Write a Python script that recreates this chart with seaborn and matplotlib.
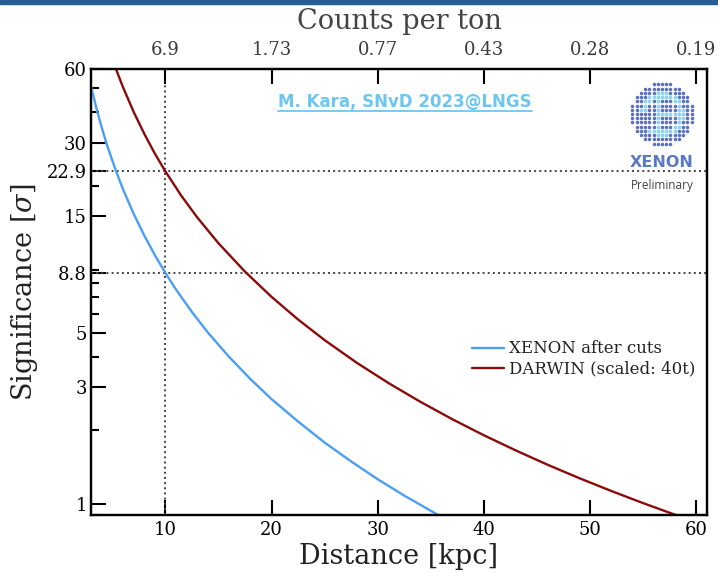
import matplotlib
matplotlib.use("Agg")
import numpy as np
import pandas as pd
import seaborn as sns
import matplotlib.pyplot as plt
from matplotlib.ticker import FixedLocator, LogLocator, NullFormatter, FuncFormatter
from matplotlib.lines import Line2D
from matplotlib.patches import Rectangle

# Detection significance versus supernova distance
xenon_distance = [3.0, 3.5, 4.0, 4.5, 5.0, 5.5, 6.0, 7.0, 8.0, 9.0, 10.0, 11.0, 12.5,
                  14.0, 16.0, 18.0, 20.0, 22.5, 25.0, 27.5, 30.0, 32.5, 35.0, 36.0]
xenon_significance = [50.9, 41.6, 34.7, 29.4, 25.4, 22.1, 19.4, 15.4, 12.55, 10.42, 8.8,
                      7.53, 6.09, 5.02, 3.99, 3.24, 2.68, 2.17, 1.78, 1.49, 1.26, 1.08,
                      0.936, 0.885]

darwin_distance = [5.35, 6.0, 7.0, 8.0, 9.0, 10.0, 11.5, 13.0, 15.0, 17.5, 20.0, 22.5,
                   25.0, 28.0, 31.0, 34.0, 37.0, 40.0, 43.0, 46.0, 49.0, 52.0, 55.0,
                   58.0, 59.0]
darwin_significance = [60.0, 50.7, 40.2, 32.7, 27.1, 22.9, 18.2, 14.84, 11.63, 8.9, 7.02,
                       5.67, 4.67, 3.78, 3.12, 2.615, 2.22, 1.906, 1.653, 1.444, 1.272,
                       1.128, 1.006, 0.902, 0.871]

series_names = ["XENON after cuts", "DARWIN (scaled: 40t)"]
series_colors = ["#4a9ef5", "#8b0a0a"]

y_ticks = [1, 3, 5, 8.8, 15, 22.9, 30, 60]
x_ticks = [10, 20, 30, 40, 50, 60]
counts_per_ton = ["6.9", "1.73", "0.77", "0.43", "0.28", "0.19"]

ref_distance = 10
ref_levels = [22.9, 8.8]

df = pd.concat([
    pd.DataFrame({"distance": xenon_distance, "significance": xenon_significance,
                  "detector": series_names[0]}),
    pd.DataFrame({"distance": darwin_distance, "significance": darwin_significance,
                  "detector": series_names[1]}),
], ignore_index=True)

sns.set_theme(style="ticks")
plt.rcParams.update({
    "font.family": ["DejaVu Serif"],
    "mathtext.fontset": "dejavuserif",
    "axes.edgecolor": "black",
    "text.color": "#222222",
    "axes.labelcolor": "#222222",
    "xtick.color": "black",
    "ytick.color": "black",
    "lines.solid_capstyle": "round",
    "lines.solid_joinstyle": "round",
})

W, H = 718, 573
fig = plt.figure(figsize=(W / 100, H / 100), dpi=100)
fig.patch.set_facecolor("white")

# thin header band
fig.patches.append(Rectangle((0, 1 - 4 / H), 1, 4 / H, transform=fig.transFigure,
                             color="#2b5d94", zorder=0))

left, right, top, bottom = 91, 707, 69, 515
ax = fig.add_axes([left / W, 1 - bottom / H, (right - left) / W, (bottom - top) / H])

sns.lineplot(data=df, x="distance", y="significance", hue="detector",
             palette=dict(zip(series_names, series_colors)), linewidth=1.7,
             sort=False, estimator=None, ax=ax, zorder=3)

ax.set_yscale("log")
ax.set_xlim(3, 61)
ax.set_ylim(0.9, 60)

# reference markers
ax.axvline(ref_distance, color="#444444", linestyle=":", linewidth=1.4, zorder=2)
for lvl in ref_levels:
    ax.axhline(lvl, color="#444444", linestyle=":", linewidth=1.4, zorder=2)

ax.yaxis.set_major_locator(FixedLocator(y_ticks))
ax.yaxis.set_major_formatter(FuncFormatter(lambda v, _: f"{v:g}"))
ax.yaxis.set_minor_locator(LogLocator(base=10, subs=np.arange(2, 10)))
ax.yaxis.set_minor_formatter(NullFormatter())
ax.xaxis.set_major_locator(FixedLocator(x_ticks))

ax.tick_params(which="major", direction="in", length=11, width=1.5, labelsize=13)
ax.tick_params(which="minor", direction="in", length=5.8, width=1.5)
ax.tick_params(axis="x", pad=4, top=False)
ax.tick_params(axis="y", pad=3, right=False)

for s in ax.spines.values():
    s.set_linewidth(1.6)
    s.set_visible(True)

ax.set_xlabel("Distance [kpc]", fontsize=19.5, labelpad=3)
ax.set_ylabel(r"Significance [$\sigma$]", fontsize=19.5, labelpad=5)

# counts per ton on the upper axis
ax_top = ax.twiny()
ax_top.set_xlim(ax.get_xlim())
ax_top.xaxis.set_major_locator(FixedLocator(x_ticks))
ax_top.set_xticklabels(counts_per_ton)
ax_top.tick_params(axis="x", which="major", direction="in", length=11, width=1.5,
                   labelsize=13, pad=7, labelcolor="#3a3a3a")
ax_top.set_xlabel("Counts per ton", fontsize=19.5, color="#444444", labelpad=9)
for s in ax_top.spines.values():
    s.set_linewidth(1.6)

leg = ax.legend(frameon=False, fontsize=12, loc="center left",
                bbox_to_anchor=(472 / W, 1 - 359 / H), bbox_transform=fig.transFigure,
                borderpad=0, borderaxespad=0, handlelength=1.95, handletextpad=0.3,
                labelspacing=0.2, title=None)
for line in leg.get_lines():
    line.set_linewidth(1.7)

# credit line
credit = fig.text(405 / W, 1 - 107.5 / H, "M. Kara, SNvD 2023@LNGS", ha="center",
                  va="baseline", fontsize=12, fontweight="bold", color="#6ec6f0",
                  family="DejaVu Sans")
fig.canvas.draw()
bb = credit.get_window_extent()
uy = (H - 110.5) / H
fig.lines.append(Line2D([bb.x0 / W, bb.x1 / W], [uy, uy], transform=fig.transFigure,
                        color="#6ec6f0", linewidth=1.3))

# collaboration logo: dotted disc
logo = fig.add_axes([(662 - 33) / W, 1 - (114 + 33) / H, 66 / W, 66 / H])
logo.set_xlim(-1.05, 1.05)
logo.set_ylim(-1.05, 1.05)
logo.axis("off")
g = np.arange(-7, 8) / 7.4
gx, gy = np.meshgrid(g, g)
gx, gy = gx.ravel(), gy.ravel()
r = np.hypot(gx, gy)
inside = r <= 1.0
ring = (r > 0.5) & (r < 0.72) & ~((gx < -0.1) & (gy < 0.12) & (gy > -0.45))
bar = (np.abs(gy) < 0.07) & (gx > -0.25) & (gx < 0.75)
stem = (np.abs(gx + 0.14) < 0.07) & (np.abs(gy) < 0.5)
light = inside & (ring | bar | stem)
dark = inside & ~light
logo.scatter(gx[dark], gy[dark], s=6.5, color="#5b6fbf", linewidths=0)
logo.scatter(gx[light], gy[light], s=7.5, color="#8fd3f4", linewidths=0)

fig.text(662 / W, 1 - 163 / H, "XENON", ha="center", va="center", fontsize=11.5,
         fontweight="bold", color="#5b78c6", family="DejaVu Sans")
fig.text(662 / W, 1 - 186 / H, "Preliminary", ha="center", va="center", fontsize=8.5,
         color="#444444", family="Open Sans")

fig.savefig("out.png", dpi=100, facecolor="white")
